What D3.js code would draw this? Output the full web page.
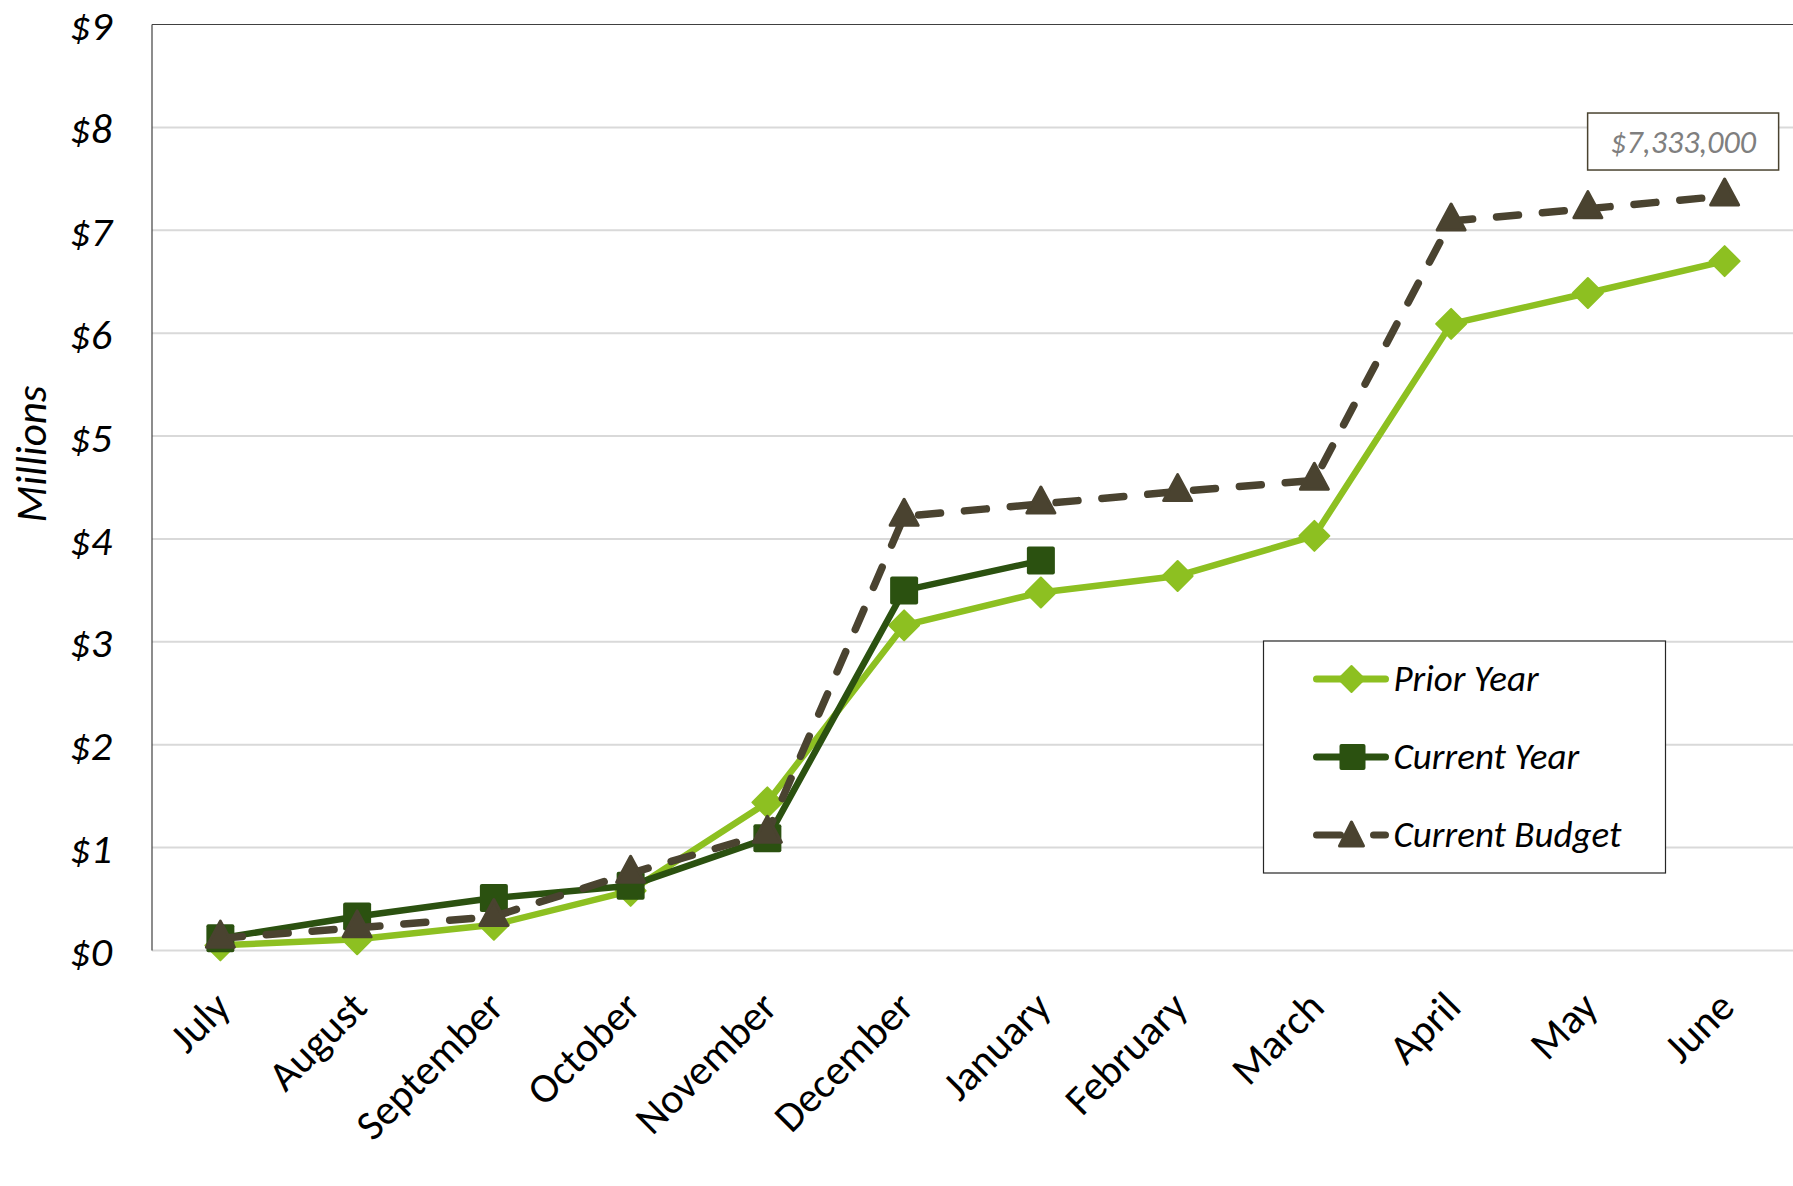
<!DOCTYPE html>
<html>
<head>
<meta charset="utf-8">
<script src="https://cdn.jsdelivr.net/npm/d3@7"></script>
<style>
  body { margin: 0; background: #fff; }
  text { font-family: Carlito, Lato, "Open Sans", sans-serif; }
</style>
</head>
<body>
<script>
const months = ["July","August","September","October","November","December","January","February","March","April","May","June"];
const priorYear = [0.05, 0.11, 0.25, 0.58, 1.44, 3.16, 3.48, 3.64, 4.03, 6.09, 6.39, 6.70];
const currentYear = [0.12, 0.33, 0.51, 0.63, 1.09, 3.50, 3.79];
const currentBudget = [0.12, 0.22, 0.33, 0.75, 1.14, 4.22, 4.34, 4.46, 4.57, 7.09, 7.21, 7.333];
const yTicks = [0,1,2,3,4,5,6,7,8,9];
const seriesNames = ["Prior Year","Current Year","Current Budget"];
const budgetLabel = "$7,333,000";

function main(){
    const W = 1793, H = 1186;
    const left = 152, top = 24.5, bottom = 950.5, right = 1793;

    const svg = d3.select("body").append("svg")
        .attr("width", W)
        .attr("height", H);

    const x = d3.scalePoint()
        .domain(months)
        .range([left, right])
        .padding(0.5);

    const y = d3.scaleLinear()
        .domain([0, 9])
        .range([bottom, top]);

    // gridlines
    svg.append("g")
        .selectAll("line")
        .data(yTicks.filter(d => d < 9))
        .join("line")
            .attr("x1", left).attr("x2", right)
            .attr("y1", d => y(d)).attr("y2", d => y(d))
            .attr("stroke", "#d9d9d9")
            .attr("stroke-width", 2);

    // plot border top + left
    svg.append("line").attr("x1", left).attr("x2", right).attr("y1", top).attr("y2", top)
        .attr("stroke", "#404040").attr("stroke-width", 1.2);
    svg.append("line").attr("x1", left).attr("x2", left).attr("y1", top).attr("y2", bottom)
        .attr("stroke", "#404040").attr("stroke-width", 1.2);

    // y axis labels
    const yAxis = svg.append("g")
        .attr("transform", "translate(" + left + ",0)")
        .call(d3.axisLeft(y).tickValues(yTicks).tickSize(0).tickPadding(40).tickFormat(d => "$" + d));
    yAxis.select(".domain").remove();
    yAxis.selectAll("text")
        .attr("font-size", 42)
        .attr("dy", "0.36em")
        .attr("font-style", "italic")
        .attr("fill", "#000")
        .style("font-family", "Carlito, Lato, sans-serif");

    svg.append("text")
        .attr("transform", "translate(46,454) rotate(-90)")
        .attr("text-anchor", "middle")
        .attr("font-size", 43)
        .attr("font-style", "italic")
        .text("Millions");

    // x axis labels
    svg.append("g")
        .selectAll("text")
        .data(months)
        .join("text")
            .attr("transform", d => "translate(" + (x(d) + 12) + "," + (bottom + 59) + ") rotate(-45)")
            .attr("text-anchor", "end")
            .attr("font-size", 42)
            .text(d => d);

    const colors = ["#8dc021", "#2b5110", "#4a4330"];

    const line = d3.line()
        .x((d, i) => x(months[i]))
        .y(d => y(d));

    // prior year
    svg.append("path")
        .datum(priorYear)
        .attr("d", line)
        .attr("fill", "none")
        .attr("stroke", colors[0])
        .attr("stroke-width", 6.5)
        .attr("stroke-linejoin", "round");
    svg.append("g").selectAll("path")
        .data(priorYear)
        .join("path")
            .attr("transform", (d, i) => "translate(" + x(months[i]) + "," + y(d) + ")")
            .attr("d", "M0,-15 L15,0 L0,15 L-15,0 Z")
            .attr("fill", colors[0])
            .attr("stroke", colors[0])
            .attr("stroke-width", 2)
            .attr("stroke-linejoin", "round");

    // current year
    svg.append("path")
        .datum(currentYear)
        .attr("d", line)
        .attr("fill", "none")
        .attr("stroke", colors[1])
        .attr("stroke-width", 6.5)
        .attr("stroke-linejoin", "round");
    svg.append("g").selectAll("rect")
        .data(currentYear)
        .join("rect")
            .attr("x", (d, i) => x(months[i]) - 14)
            .attr("y", d => y(d) - 14)
            .attr("width", 28)
            .attr("height", 28)
            .attr("rx", 2)
            .attr("fill", colors[1]);

    // current budget
    svg.append("path")
        .datum(currentBudget)
        .attr("d", line)
        .attr("fill", "none")
        .attr("stroke", colors[2])
        .attr("stroke-width", 7.5)
        .attr("stroke-dasharray", "22,24")
        .attr("stroke-linecap", "round")
        .attr("stroke-linejoin", "round");
    const tri = "M0,-17 L14,9 L-14,9 Z";
    svg.append("g").selectAll("path")
        .data(currentBudget)
        .join("path")
            .attr("transform", (d, i) => "translate(" + x(months[i]) + "," + y(d) + ")")
            .attr("d", tri)
            .attr("fill", colors[2])
            .attr("stroke", colors[2])
            .attr("stroke-width", 3)
            .attr("stroke-linejoin", "round");

    // data label for last budget point
    const lx = x(months[11]), ly = y(currentBudget[11]);
    svg.append("rect")
        .attr("x", lx - 137).attr("y", ly - 83)
        .attr("width", 191).attr("height", 57)
        .attr("fill", "#fff")
        .attr("stroke", colors[2])
        .attr("stroke-width", 1.5);
    svg.append("text")
        .attr("x", lx - 41.5).attr("y", ly - 43)
        .attr("text-anchor", "middle")
        .attr("font-size", 32)
        .attr("font-style", "italic")
        .attr("fill", "#7f7f7f")
        .text(budgetLabel);

    // legend
    const lg = svg.append("g").attr("transform", "translate(1263.5,641)");
    lg.append("rect")
        .attr("width", 402).attr("height", 232)
        .attr("fill", "#fff")
        .attr("stroke", "#262626")
        .attr("stroke-width", 1.2);
    const rowY = [38, 116, 194];
    seriesNames.forEach((name, k) => {
        const g = lg.append("g").attr("transform", "translate(0," + rowY[k] + ")");
        if (k === 2) {
            g.append("line").attr("x1", 53).attr("x2", 77).attr("y1", 0).attr("y2", 0)
                .attr("stroke", colors[k]).attr("stroke-width", 7).attr("stroke-linecap", "round");
            g.append("line").attr("x1", 110).attr("x2", 122).attr("y1", 0).attr("y2", 0)
                .attr("stroke", colors[k]).attr("stroke-width", 7).attr("stroke-linecap", "round");
        } else {
            g.append("line").attr("x1", 53).attr("x2", 122).attr("y1", 0).attr("y2", 0)
                .attr("stroke", colors[k]).attr("stroke-width", 7).attr("stroke-linecap", "round");
        }
        if (k === 0) {
            g.append("path").attr("transform", "translate(88,0)").attr("d", "M0,-13 L13,0 L0,13 L-13,0 Z")
                .attr("fill", colors[k]).attr("stroke", colors[k]).attr("stroke-width", 2).attr("stroke-linejoin", "round");
        } else if (k === 1) {
            g.append("rect").attr("x", 76).attr("y", -13).attr("width", 26).attr("height", 26).attr("rx", 2)
                .attr("fill", colors[k]);
        } else {
            g.append("path").attr("transform", "translate(88,0)").attr("d", "M0,-13 L12,11 L-12,11 Z")
                .attr("fill", colors[k]).attr("stroke", colors[k]).attr("stroke-width", 3).attr("stroke-linejoin", "round");
        }
        g.append("text")
            .attr("x", 130).attr("y", 12)
            .attr("font-size", 37)
            .attr("font-style", "italic")
            .text(name);
    });
}
main();
</script>
</body>
</html>
